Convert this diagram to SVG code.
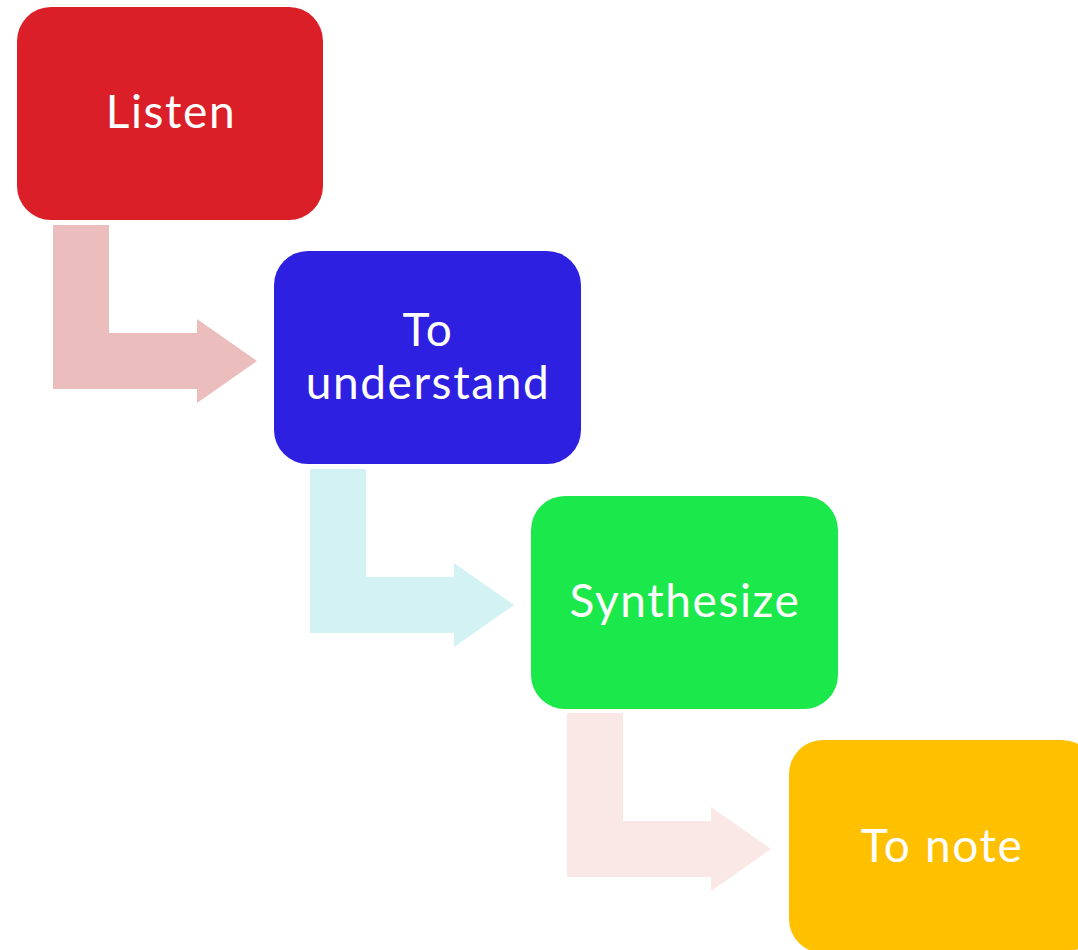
<svg xmlns="http://www.w3.org/2000/svg" width="1078" height="950" viewBox="0 0 1078 950">
<style>
.box{stroke:none}
.lbl{font-family:"Lato","Open Sans","DejaVu Sans",sans-serif;font-size:46px;fill:#ffffff;text-anchor:middle;letter-spacing:1.6px}
</style>
<rect width="1078" height="950" fill="#ffffff"/>
<g id="connectors">
<path d="M53 225 H109 V333 H197 V319 L257 361 L197 403 V389 H53 Z" fill="#ECBDBD"/>
<path d="M310 469 H366 V577 H454 V563 L514 605 L454 647 V633 H310 Z" fill="#D2F2F4"/>
<path d="M567 713 H623 V821 H711 V807 L771 849 L711 891 V877 H567 Z" fill="#FAE8E6"/>
</g>
<g id="listen">
<rect class="box" x="17" y="7" width="306" height="213" rx="34" fill="#DA1F28"/>
<text class="lbl" x="171" y="128">Listen</text>
</g>
<g id="understand">
<rect class="box" x="274" y="251" width="307" height="213" rx="34" fill="#2E20E0"/>
<text class="lbl" x="428" y="346">To</text>
<text class="lbl" x="428" y="399">understand</text>
</g>
<g id="synthesize">
<rect class="box" x="531" y="496" width="307" height="213" rx="34" fill="#1BE84A"/>
<text class="lbl" x="685" y="617">Synthesize</text>
</g>
<g id="tonote">
<rect class="box" x="789" y="740" width="307" height="213" rx="34" fill="#FFC000"/>
<text class="lbl" x="942" y="862">To note</text>
</g>
</svg>
